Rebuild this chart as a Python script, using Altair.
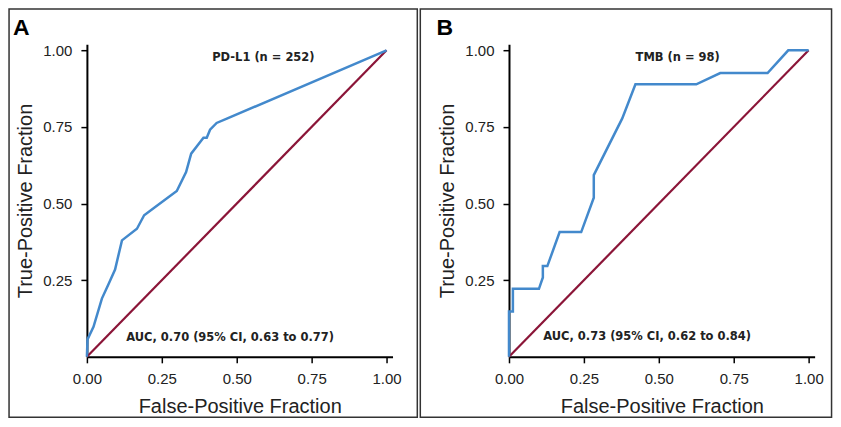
import altair as alt
import pandas as pd

# Panel A: PD-L1 ROC curve
pd_fpr = [0, 0.002, 0.022, 0.05, 0.072, 0.094, 0.117, 0.167, 0.191, 0.228, 0.30, 0.331, 0.348, 0.389, 0.40, 0.411, 0.433, 0.467, 1.0]
pd_tpr = [0, 0.057, 0.098, 0.19, 0.237, 0.285, 0.380, 0.418, 0.462, 0.489, 0.541, 0.603, 0.663, 0.715, 0.715, 0.741, 0.763, 0.777, 1.0]

# Panel B: TMB ROC curve
tmb_fpr = [0, 0, 0.013, 0.013, 0.1, 0.113, 0.113, 0.128, 0.169, 0.241, 0.283, 0.283, 0.378, 0.422, 0.625, 0.705, 0.863, 0.932, 1.0]
tmb_tpr = [0, 0.148, 0.148, 0.222, 0.222, 0.259, 0.296, 0.296, 0.407, 0.407, 0.519, 0.593, 0.778, 0.889, 0.889, 0.926, 0.926, 1.0, 1.0]

ref_x = [0, 1]
ref_y = [0, 1]

x_ticks = [0, 0.25, 0.5, 0.75, 1.0]
y_ticks = [0.25, 0.5, 0.75, 1.0]

panel_letters = ["A", "B"]
panel_titles = ["PD-L1 (n = 252)", "TMB (n = 98)"]
title_pos_x = [0.589, 0.563]
title_pos_y = [0.965, 0.965]
auc_texts = ["AUC, 0.70 (95% CI, 0.63 to 0.77)", "AUC, 0.73 (95% CI, 0.62 to 0.84)"]
auc_pos_x = [0.478, 0.461]
auc_pos_y = [0.052, 0.054]

BLUE = "#4389cc"
RED = "#8b1538"
FONT = "Liberation Sans"
W, H = 306, 313

xscale = alt.Scale(domain=[0, 1.02], nice=False, zero=False)
yscale = alt.Scale(domain=[0, 1.02], nice=False, zero=False)

xaxis = alt.Axis(values=x_ticks, format=".2f", title="False-Positive Fraction",
                 titleFont=FONT, titleFontSize=20, titleFontWeight="normal", titleColor="#222",
                 titleY=55.6, titleBaseline="alphabetic",
                 labelFont=FONT, labelFontSize=15, labelColor="#222", labelPadding=9, labelFlush=False,
                 tickSize=6, tickWidth=1.5, tickColor="black", domainColor="black", domainWidth=2, grid=False)
yaxis = alt.Axis(values=y_ticks, format=".2f", title="True-Positive Fraction",
                 titleFont=FONT, titleFontSize=20, titleFontWeight="normal", titleColor="#222",
                 titleX=-55.5, titleBaseline="alphabetic",
                 labelFont=FONT, labelFontSize=15, labelColor="#222", labelPadding=9, labelFlush=False,
                 tickSize=6, tickWidth=1.5, tickColor="black", domainColor="black", domainWidth=2, grid=False)

frames = [(-77.95, 330.8), (-88.8, 322.95)]
letter_x = [-74, -72.6]


def panel(i, fpr, tpr):
    curve_df = pd.DataFrame({"fpr": fpr, "tpr": tpr, "idx": list(range(len(fpr)))})
    ref_df = pd.DataFrame({"fpr": ref_x, "tpr": ref_y, "idx": [0, 1]})
    ann_df = pd.DataFrame({"x": [title_pos_x[i], auc_pos_x[i]],
                           "y": [title_pos_y[i], auc_pos_y[i]],
                           "t": [panel_titles[i], auc_texts[i]]})
    one = pd.DataFrame({"k": [0]})

    base_ref = alt.Chart(ref_df).mark_line(color=RED, strokeWidth=2.2).encode(
        x=alt.X("fpr:Q", scale=xscale, axis=xaxis),
        y=alt.Y("tpr:Q", scale=yscale, axis=yaxis),
        order="idx:Q")
    curve = alt.Chart(curve_df).mark_line(color=BLUE, strokeWidth=2.5).encode(
        x=alt.X("fpr:Q", scale=xscale, axis=xaxis),
        y=alt.Y("tpr:Q", scale=yscale, axis=yaxis),
        order="idx:Q")
    ann = alt.Chart(ann_df).mark_text(font="DejaVu Sans", fontWeight="bold", fontSize=11.5,
                                      color="#222", baseline="alphabetic", align="center").encode(
        x=alt.X("x:Q", scale=xscale, axis=xaxis),
        y=alt.Y("y:Q", scale=yscale, axis=yaxis),
        text="t:N")
    letter = alt.Chart(one).mark_text(font=FONT, fontWeight="bold", fontSize=23, color="black",
                                      align="left", baseline="alphabetic", text=panel_letters[i]).encode(
        x=alt.value(letter_x[i]), y=alt.value(-8.9))
    fl, fr = frames[i]
    frame = alt.Chart(one).mark_rect(fill=None, fillOpacity=0, stroke="#333", strokeWidth=1.5, clip=False).encode(
        x=alt.value(fl), x2=alt.value(fr), y=alt.value(-35.15), y2=alt.value(373.6))
    return alt.layer(frame, base_ref, curve, ann, letter).properties(width=W, height=H)


chart = alt.hconcat(panel(0, pd_fpr, pd_tpr), panel(1, tmb_fpr, tmb_tpr),
                    spacing=116.6, bounds="flush").properties(padding=0).configure_view(stroke=None)

chart.save("out.html", embed_options={"renderer": "svg", "actions": False})
